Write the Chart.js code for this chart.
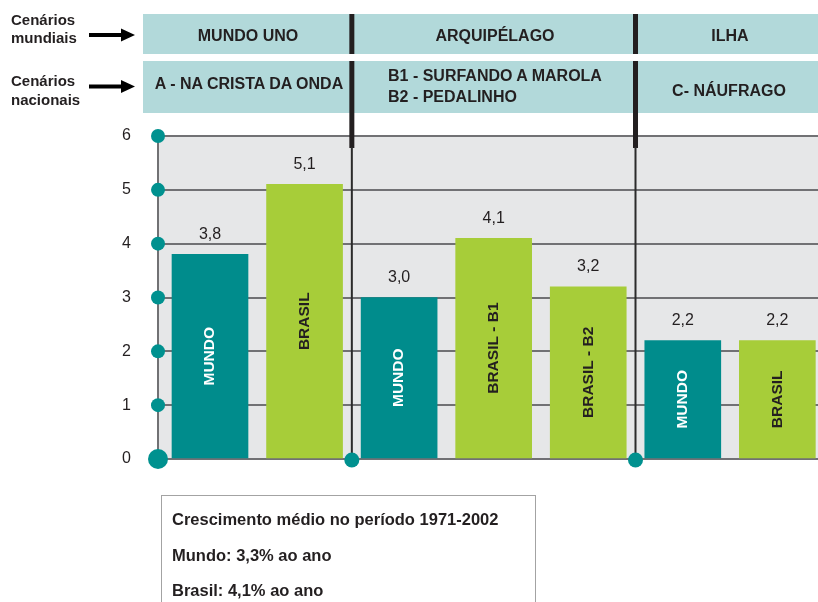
<!DOCTYPE html>
<html><head><meta charset="utf-8">
<script src="https://cdn.jsdelivr.net/npm/chart.js@4/dist/chart.umd.min.js"></script>
<style>
html,body{margin:0;padding:0;background:#fff;overflow:hidden;}
#wrap{position:relative;width:818px;height:602px;overflow:hidden;}
canvas{position:absolute;left:0;top:0;}
.t{position:absolute;font-family:"Liberation Sans",Arial,sans-serif;font-weight:bold;color:#231f20;white-space:nowrap;}
.c{transform:translateX(-50%);text-align:center;}
#note{position:absolute;left:161px;top:495px;width:375px;height:130px;border:1.5px solid #a3a3a3;box-sizing:border-box;}
</style></head><body>
<div id="wrap"><canvas id="c" width="818" height="602"></canvas></div>
<script>
// ---- data ----
const worldScenarios = ['MUNDO UNO', 'ARQUIPÉLAGO', 'ILHA'];
const nationalScenarios = [['A - NA CRISTA DA ONDA'], ['B1 - SURFANDO A MAROLA', 'B2 - PEDALINHO'], ['C- NÁUFRAGO']];
const groupSizes = [2, 3, 2];
const barLabels = ['MUNDO', 'BRASIL', 'MUNDO', 'BRASIL - B1', 'BRASIL - B2', 'MUNDO', 'BRASIL'];
const barValues = [3.8, 5.1, 3.0, 4.1, 3.2, 2.2, 2.2];
const yTicks = [0, 1, 2, 3, 4, 5, 6];
const sideLabels = [['Cenários', 'mundiais'], ['Cenários', 'nacionais']];
const noteLines = ['Crescimento médio no período 1971-2002', 'Mundo: 3,3% ao ano', 'Brasil: 4,1% ao ano'];

// ---- styles / layout ----
const TEAL = '#008c8c', GREEN = '#a7cd39', BAND = '#b2d9da', DOT = '#00918f', INK = '#231f20';
const FONT = '"Liberation Sans", Arial, sans-serif';
const wrap = document.getElementById('wrap');
function addText(txt, style, cls) {
  const d = document.createElement('div');
  d.className = 't' + (cls ? ' ' + cls : '');
  d.innerHTML = txt;
  Object.assign(d.style, style);
  wrap.appendChild(d);
}
// side labels
addText(sideLabels[0].join('<br>'), {left: '11px', top: '11px', fontSize: '15px', lineHeight: '18px'});
addText(sideLabels[1].join('<br>'), {left: '11px', top: '71px', fontSize: '15px', lineHeight: '19px'});
// world scenario headers
const worldX = [248, 495, 730];
worldScenarios.forEach((s, i) => addText(s, {left: worldX[i] + 'px', top: '26px', fontSize: '16px', lineHeight: '20px'}, 'c'));
// national scenario headers
addText(nationalScenarios[0][0], {left: '249px', top: '74px', fontSize: '16px', lineHeight: '20px'}, 'c');
addText(nationalScenarios[1].join('<br>'), {left: '388px', top: '66px', fontSize: '16px', lineHeight: '20.5px'});
addText(nationalScenarios[2][0], {left: '729px', top: '81px', fontSize: '16px', lineHeight: '20px'}, 'c');
// note box
const note = document.createElement('div'); note.id = 'note'; wrap.appendChild(note);
const noteY = [509, 545, 580];
noteLines.forEach((s, i) => addText(s, {left: '172px', top: noteY[i] + 'px', fontSize: '16.5px', lineHeight: '20px'}));

// separators after these bar indices
const sepAfter = [];
{ let acc = 0; for (let g = 0; g < groupSizes.length - 1; g++) { acc += groupSizes[g]; sepAfter.push(acc - 1); } }

const deco = {
  id: 'deco',
  beforeDraw(chart) {
    const {ctx, chartArea: a} = chart;
    ctx.save();
    ctx.fillStyle = '#e6e7e8';
    ctx.fillRect(a.left, a.top, a.right - a.left, a.bottom - a.top);
    ctx.fillStyle = BAND;
    ctx.fillRect(143, 14, 818 - 143, 40);
    ctx.fillRect(143, 61, 818 - 143, 52);
    // arrows
    ctx.fillStyle = '#000';
    [35, 86.5].forEach(yy => {
      ctx.fillRect(89, yy - 2, 35, 4);
      ctx.beginPath(); ctx.moveTo(121, yy - 6.5); ctx.lineTo(135, yy); ctx.lineTo(121, yy + 6.5); ctx.closePath(); ctx.fill();
    });
    ctx.restore();
  },
  beforeDatasetsDraw(chart) {
    const {ctx, chartArea: a, scales: {x}} = chart;
    ctx.save();
    sepAfter.forEach(i => {
      const sx = x.getPixelForValue(i + 0.5);
      ctx.fillStyle = INK;
      ctx.fillRect(sx - 2.5, 14, 5, 40);
      ctx.fillRect(sx - 2.5, 61, 5, 87);
      ctx.strokeStyle = '#2b2b2b'; ctx.lineWidth = 2;
      ctx.beginPath(); ctx.moveTo(sx, 147); ctx.lineTo(sx, a.bottom); ctx.stroke();
    });
    ctx.restore();
  },
  afterDatasetsDraw(chart) {
    const {ctx} = chart;
    const meta = chart.getDatasetMeta(0);
    ctx.save();
    meta.data.forEach((el, i) => {
      ctx.fillStyle = INK;
      ctx.font = '16px ' + FONT;
      ctx.textAlign = 'center'; ctx.textBaseline = 'middle';
      ctx.fillText(barValues[i].toFixed(1).replace('.', ','), el.x, el.y - 20);
      ctx.save();
      ctx.translate(el.x, (el.y + el.base) / 2);
      ctx.rotate(-Math.PI / 2);
      ctx.font = 'bold 15.5px ' + FONT;
      ctx.fillStyle = barLabels[i].startsWith('MUNDO') ? '#ffffff' : INK;
      ctx.fillText(barLabels[i], 0, 0);
      ctx.restore();
    });
    ctx.restore();
  },
  afterDraw(chart) {
    const {ctx, chartArea: a, scales: {x, y}} = chart;
    ctx.save();
    ctx.fillStyle = DOT;
    yTicks.forEach(t => {
      ctx.beginPath(); ctx.arc(a.left, y.getPixelForValue(t), t === 0 ? 10 : 7, 0, Math.PI * 2); ctx.fill();
    });
    sepAfter.forEach(i => {
      const sx = x.getPixelForValue(i + 0.5);
      ctx.beginPath(); ctx.arc(sx, a.bottom + 1, 7.5, 0, Math.PI * 2); ctx.fill();
    });
    ctx.restore();
  }
};

new Chart(document.getElementById('c'), {
  type: 'bar',
  data: {
    datasets: [{
      data: barValues.map((v, i) => ({x: i, y: v})),
      backgroundColor: barLabels.map(l => l.startsWith('MUNDO') ? TEAL : GREEN),
      borderWidth: 0,
      barThickness: 76
    }]
  },
  options: {
    responsive: false,
    devicePixelRatio: 1,
    animation: false,
    events: [],
    layout: {padding: {top: 136, bottom: 143, left: 0, right: 0}},
    plugins: {legend: {display: false}, tooltip: {enabled: false}},
    scales: {
      x: {type: 'linear', min: -0.55, max: 6.43, offset: false, display: false},
      y: {
        min: 0, max: 6,
        afterFit(s) { s.width = 158; },
        ticks: {stepSize: 1, padding: 27, color: INK, font: {family: FONT, size: 16}},
        grid: {color: '#717174', lineWidth: 2, drawTicks: false},
        border: {display: true, color: '#717174', width: 2}
      }
    }
  },
  plugins: [deco]
});
</script>
</body></html>
